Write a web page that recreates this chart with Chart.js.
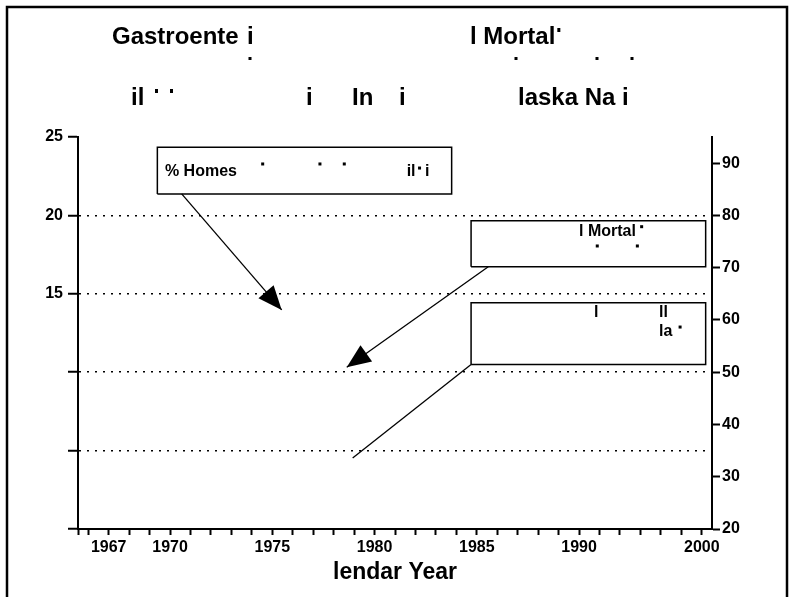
<!DOCTYPE html>
<html>
<head>
<meta charset="utf-8">
<script src="https://cdn.jsdelivr.net/npm/chart.js@4.4.1/dist/chart.umd.min.js"></script>
<style>
  html, body { margin: 0; padding: 0; background: #fff; }
  #wrap { width: 793px; height: 597px; }
</style>
</head>
<body>
<div id="wrap"><canvas id="chart" width="793" height="597"></canvas></div>
<script>
// x axis: calendar years, a tick for every year
const yearTicks = [1965.5, 1966, 1967, 1968, 1969, 1970, 1971, 1972, 1973, 1974, 1975, 1976,
    1977, 1978, 1979, 1980, 1981, 1982, 1983, 1984, 1985, 1986, 1987, 1988, 1989, 1990,
    1991, 1992, 1993, 1994, 1995, 1996];
const yearLabelValues = [1967, 1970, 1975, 1980, 1985, 1990, 1996];
const yearLabelText = ['1967', '1970', '1975', '1980', '1985', '1990', '2000'];

// left axis (%)
const leftTicks = [0, 5, 10, 15, 20, 25];
const leftTickText = ['', '', '', '15', '20', '25'];
const gridValues = [5, 10, 15, 20];

// right axis
const rightTicks = [20, 30, 40, 50, 60, 70, 80, 90];

// annotation boxes and arrows, in data units (year, left axis %)
const box1X = [1969.38, 1983.77];
const box1Y = [21.37, 24.34];
const box2X = [1984.72, 1996.19];
const box2Y = [16.73, 19.66];
const box3X = [1984.72, 1996.19];
const box3Y = [10.49, 14.43];
const arrow1X = [1970.57, 1975.46];
const arrow1Y = [21.37, 13.97];
const arrow2X = [1985.56, 1978.64];
const arrow2Y = [16.73, 10.31];
const leader3X = [1984.72, 1978.93];
const leader3Y = [10.49, 4.53];

// text left inside the boxes (what survives of it)
const boxText = ['% Homes', 'il', 'i', 'l Mortal', 'l', 'll', 'la'];
const boxTextX = [1969.75, 1981.57, 1982.47, 1990.0, 1990.73, 1993.91, 1993.91];
const boxTextY = [22.80, 22.80, 22.80, 18.94, 13.81, 13.81, 12.56];
const boxDotX = [1974.53, 1977.33, 1978.52, 1982.2, 1993.06, 1990.89, 1992.85, 1994.94];
const boxDotY = [23.28, 23.28, 23.28, 23.02, 19.28, 18.05, 18.05, 12.88];

const FONT = "'Liberation Sans', Arial, sans-serif";

function rectPoints(xs, ys) {
    return [
        {x: xs[0], y: ys[0]}, {x: xs[1], y: ys[0]}, {x: xs[1], y: ys[1]},
        {x: xs[0], y: ys[1]}, {x: xs[0], y: ys[0]}
    ];
}
function linePoints(xs, ys) {
    return xs.map((x, i) => ({x: x, y: ys[i]}));
}
function shape(points, width, arrow) {
    return {
        data: points, showLine: true, pointRadius: 0, borderColor: '#000',
        borderWidth: width, fill: false, tension: 0, yAxisID: 'y', arrow: arrow
    };
}

// white page with the black frame
const framePlugin = {
    id: 'frame',
    beforeDraw(chart) {
        const c = chart.ctx;
        c.save();
        c.fillStyle = '#fff';
        c.fillRect(0, 0, chart.width, chart.height);
        c.strokeStyle = '#000';
        c.lineWidth = 2.5;
        c.strokeRect(7, 7, 780, 610);
        c.restore();
    }
};

// the broken two-line heading
const headingPlugin = {
    id: 'heading',
    afterDraw(chart) {
        const c = chart.ctx;
        c.save();
        c.fillStyle = '#000';
        c.font = 'bold 24px ' + FONT;
        c.textBaseline = 'middle';
        c.textAlign = 'left';
        c.fillText('Gastroente', 112, 37);
        c.fillText('i', 247, 37);
        c.fillText('l Mortal', 470, 37);
        let w = c.measureText('l Mortal').width;
        c.fillRect(470 + w + 2, 28, 3, 4);
        [250, 516, 597, 632].forEach(x => c.fillRect(x - 1.5, 57, 3, 3));
        c.fillText('il', 131, 98);
        c.fillRect(155, 89, 3, 4);
        c.fillRect(170, 89, 3, 4);
        c.fillText('i', 306, 98);
        c.fillText('In', 352, 98);
        c.fillText('i', 399, 98);
        c.fillText('laska Na i', 518, 98);
        c.restore();
    }
};

// arrow heads and the text in the boxes
const notesPlugin = {
    id: 'notes',
    afterDatasetsDraw(chart) {
        const c = chart.ctx;
        const xs = chart.scales.x, ys = chart.scales.y;
        c.save();
        c.fillStyle = '#000';
        chart.data.datasets.forEach((ds, i) => {
            if (!ds.arrow) return;
            const pts = chart.getDatasetMeta(i).data;
            const a = pts[pts.length - 2], b = pts[pts.length - 1];
            const ang = Math.atan2(b.y - a.y, b.x - a.x);
            const len = 24, half = 10;
            c.beginPath();
            c.moveTo(b.x, b.y);
            c.lineTo(b.x - len * Math.cos(ang) + half * Math.sin(ang), b.y - len * Math.sin(ang) - half * Math.cos(ang));
            c.lineTo(b.x - len * Math.cos(ang) - half * Math.sin(ang), b.y - len * Math.sin(ang) + half * Math.cos(ang));
            c.closePath();
            c.fill();
        });
        c.font = 'bold 16px ' + FONT;
        c.textBaseline = 'middle';
        c.textAlign = 'left';
        boxText.forEach((t, i) => {
            c.fillText(t, xs.getPixelForValue(boxTextX[i]), ys.getPixelForValue(boxTextY[i]));
        });
        boxDotX.forEach((x, i) => {
            c.fillRect(xs.getPixelForValue(x) - 1.5, ys.getPixelForValue(boxDotY[i]) - 1.5, 3, 3);
        });
        c.restore();
    }
};

const tickFont = {family: FONT, size: 16, weight: 'bold'};

new Chart(document.getElementById('chart').getContext('2d'), {
    type: 'scatter',
    data: {
        datasets: [
            shape(rectPoints(box1X, box1Y), 1.5, false),
            shape(rectPoints(box2X, box2Y), 1.5, false),
            shape(rectPoints(box3X, box3Y), 1.5, false),
            shape(linePoints(arrow1X, arrow1Y), 1.3, true),
            shape(linePoints(arrow2X, arrow2Y), 1.3, true),
            shape(linePoints(leader3X, leader3Y), 1.3, false)
        ]
    },
    options: {
        responsive: false,
        animation: false,
        layout: {padding: {top: 137, left: 0, right: 0, bottom: 0}},
        plugins: {legend: {display: false}, tooltip: {enabled: false}},
        scales: {
            x: {
                type: 'linear', position: 'bottom', min: 1965.5, max: 1996.5,
                afterBuildTicks: s => { s.ticks = yearTicks.map(v => ({value: v})); },
                afterFit: s => { s.height = 68; },
                ticks: {
                    autoSkip: false, maxRotation: 0, padding: 3, color: '#000', font: tickFont,
                    callback: v => {
                        const k = yearLabelValues.indexOf(v);
                        return k < 0 ? '' : yearLabelText[k];
                    }
                },
                grid: {drawOnChartArea: false, tickLength: 6, tickWidth: 2, tickColor: '#000'},
                border: {color: '#000', width: 2},
                title: {
                    display: true, text: 'lendar Year', color: '#000',
                    font: {family: FONT, size: 23, weight: 'bold'},
                    padding: {top: 0, bottom: 11}
                }
            },
            y: {
                type: 'linear', position: 'left', min: 0, max: 25,
                afterBuildTicks: s => { s.ticks = leftTicks.map(v => ({value: v})); },
                afterFit: s => { s.width = 78; },
                ticks: {
                    padding: 5, color: '#000', font: tickFont,
                    callback: v => leftTickText[leftTicks.indexOf(v)]
                },
                grid: {
                    color: ctx => gridValues.includes(ctx.tick.value) ? '#000' : 'rgba(0,0,0,0)',
                    lineWidth: 1.5, tickLength: 10, tickWidth: 2, tickColor: '#000'
                },
                border: {color: '#000', width: 2, dash: [2, 6]}
            },
            y2: {
                type: 'linear', position: 'right', min: 20, max: 95,
                afterBuildTicks: s => { s.ticks = rightTicks.map(v => ({value: v})); },
                afterFit: s => { s.width = 81; },
                ticks: {padding: 2, color: '#000', font: tickFont},
                grid: {drawOnChartArea: false, tickLength: 8, tickWidth: 2, tickColor: '#000'},
                border: {color: '#000', width: 2}
            }
        }
    },
    plugins: [framePlugin, headingPlugin, notesPlugin]
});
</script>
</body>
</html>
